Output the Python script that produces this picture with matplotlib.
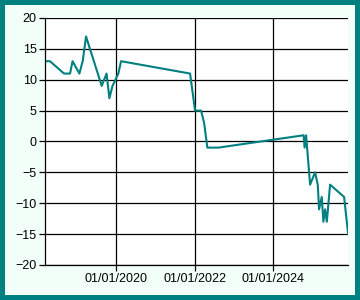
'''line chart of values over dates with matplotlib and pandas'''
import pandas as pd
import matplotlib.pyplot as plt
import matplotlib.dates as mdates

# data
dates = ['2018-03-19', '2018-05-04', '2018-09-11', '2018-11-06', '2018-11-29',
         '2019-01-31', '2019-03-03', '2019-04-03', '2019-08-26', '2019-10-10',
         '2019-11-05', '2019-12-04', '2020-01-27', '2020-02-21', '2021-11-21',
         '2022-01-06', '2022-03-03', '2022-03-31', '2022-04-30', '2022-08-10',
         '2024-10-07', '2024-10-16', '2024-10-30', '2024-12-06', '2025-01-21',
         '2025-02-15', '2025-02-27', '2025-03-24', '2025-04-08', '2025-04-24',
         '2025-05-10', '2025-06-09', '2025-10-17', '2025-11-23']
values = [13, 13, 11, 11, 13,
          11, 13, 17, 9, 11,
          7, 9, 11, 13, 11,
          5, 5, 3, -1, -1,
          1, -1, 1, -7, -5,
          -7, -11, -9, -13, -11,
          -13, -7, -9, -15]
tick_dates = ['2020-01-01', '2022-01-01', '2024-01-01']
y_ticks = [-20, -15, -10, -5, 0, 5, 10, 15, 20]

df = pd.DataFrame({'date': pd.to_datetime(dates), 'value': values})

plt.rcParams['font.family'] = ['Liberation Sans', 'DejaVu Sans']

fig = plt.figure(figsize=(3.6, 3.0), dpi=100, facecolor='#f3fff9',
                 edgecolor='#008080', linewidth=7.2)
ax = fig.add_axes([0.125, 0.117, 0.842, 0.823])
ax.set_facecolor('white')

ax.plot(df['date'], df['value'], color='#008080', linewidth=1.5)

ax.set_xlim(df['date'].iloc[0], df['date'].iloc[-1])
ax.set_ylim(-20, 20)
ax.set_yticks(y_ticks)
ax.set_xticks(pd.to_datetime(tick_dates))
ax.xaxis.set_major_formatter(mdates.DateFormatter('%m/%d/%Y'))

ax.grid(True, color='black', linewidth=0.9)
ax.set_axisbelow(True)
for side in ['top', 'right']:
    ax.spines[side].set_visible(False)
for side in ['left', 'bottom']:
    ax.spines[side].set_color('black')
    ax.spines[side].set_linewidth(0.9)
ax.tick_params(length=4, width=0.9, color='black', labelsize=9, pad=2,
               labelcolor='black')

plt.savefig('out.png', dpi=100, facecolor=fig.get_facecolor(),
            edgecolor=fig.get_edgecolor())
